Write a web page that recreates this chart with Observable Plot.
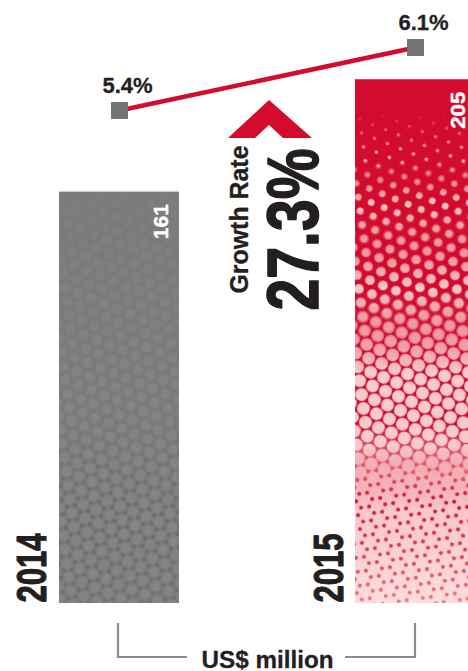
<!DOCTYPE html>
<html><head><meta charset="utf-8">
<script src="https://cdn.jsdelivr.net/npm/d3@7"></script>
<script src="https://cdn.jsdelivr.net/npm/@observablehq/plot@0.6"></script>
<style>
html,body{margin:0;padding:0;background:#fff;}
#chart{position:relative;width:468px;height:671px;overflow:hidden;background:#fff;}
#chart svg{position:absolute;left:0;top:0;}
</style></head><body><div id="chart"></div>
<script>
// ---- data ----
const years = ["2014", "2015"];
const revenue = [161, 205];           // US$ million
const shareRates = [5.4, 6.1];        // %
const rateLabels = ["5.4%", "6.1%"];
const growthLabel = "Growth Rate";
const growthValue = "27.3%";
const unitLabel = "US$ million";

const bars = years.map((year, i) => ({year, value: revenue[i]}));
const rates = years.map((year, i) => ({year, rate: shareRates[i], label: rateLabels[i]}));

// ---- style ----
const W = 468, H = 671;
const RED = "#d30b2d", INK = "#231f20", SQUARE = "#737373", BRACKET = "#8c8c8c";
const sans = "'Liberation Sans',Arial,Helvetica,sans-serif";

const xBand = {type: "band", domain: years, range: [59, 475], paddingInner: 0.5946, paddingOuter: 0, round: false, axis: null};
const is2014 = d => d.year === years[0];
const is2015 = d => d.year === years[1];

// annotation mark: chevron + bracket (pixel offsets relative to scales)
function annotations(index, scales) {
  const x = scales.x, y = scales.y, bw = x.bandwidth();
  const c0 = x(years[0]) + bw / 2, c1 = x(years[1]) + bw / 2;
  const mid = (c0 + c1) / 2 + 2;
  const g = d3.create("svg:g");
  const top = 100;
  g.append("path")
    .attr("d", `M${mid - 41},${top + 38}L${mid},${top}L${mid + 43},${top + 38}L${mid + 14},${top + 38}L${mid},${top + 25}L${mid - 14},${top + 38}Z`)
    .attr("fill", RED);
  const y0 = y(0);
  const by1 = y0 + 20, by2 = y0 + 54;
  g.append("path")
    .attr("d", `M${c0 - 1},${by1}V${by2}H${c0 + 68}M${c1 - 70},${by2}H${c1}V${by1}`)
    .attr("fill", "none").attr("stroke", BRACKET).attr("stroke-width", 2.2);
  return g.node();
}

const barPlot = Plot.plot({
  width: W, height: H, margin: 0,
  x: xBand,
  y: {domain: [0, 236], range: [603, 0], axis: null},
  style: {background: "transparent", overflow: "hidden"},
  marks: [
    Plot.barY(bars, {filter: is2014, x: "year", y: "value", fill: "#7b7b7b"}),
    Plot.barY(bars, {filter: is2014, x: "year", y: "value", fill: "url(#grayDots)", ariaDescription: "gray-dots"}),
    Plot.barY(bars, {filter: is2014, x: "year", y: "value", fill: "url(#grayStars)", ariaDescription: "gray-stars"}),
    Plot.barY(bars, {filter: is2015, x: "year", y: "value", fill: "url(#redGradient)"}),
    Plot.barY(bars, {filter: is2015, x: "year", y: "value", fill: "url(#pinkDots1)", ariaDescription: "pink1"}),
    Plot.barY(bars, {filter: is2015, x: "year", y: "value", fill: "url(#pinkDots2)", ariaDescription: "pink2"}),
    Plot.barY(bars, {filter: is2015, x: "year", y: "value", fill: "url(#pinkDots3)", ariaDescription: "pink3"}),
    Plot.barY(bars, {filter: is2015, x: "year", y: "value", fill: "url(#pinkDots4)", ariaDescription: "pink4"}),
    Plot.barY(bars, {filter: is2015, x: "year", y: "value", fill: "url(#redStars)", ariaDescription: "redstars"}),
    // value labels inside bars
    Plot.text(bars, {x: "year", y: "value", text: d => String(d.value), rotate: -90, textAnchor: "end", lineAnchor: "bottom",
      dx: 49, dy: 12, fill: "white", stroke: "white", strokeWidth: 0.4, fontSize: 21, fontWeight: "bold", fontFamily: sans, ariaDescription: "fit-values"}),
    // year labels
    Plot.text(bars, {x: "year", y: 0, text: "year", rotate: -90, textAnchor: "start", lineAnchor: "bottom",
      dx: -73, dy: -1, fill: INK, stroke: INK, strokeWidth: 1.1, fontSize: 42, fontWeight: "bold", fontFamily: sans, ariaDescription: "fit-years"}),
    // growth annotation
    Plot.text([growthLabel], {frameAnchor: "top-left", dx: 247, dy: 293, text: d => d, rotate: -90, textAnchor: "start", lineAnchor: "bottom",
      fill: INK, stroke: INK, strokeWidth: 0.3, fontSize: 25, fontWeight: "bold", fontFamily: sans, ariaDescription: "fit-growth"}),
    Plot.text([growthValue], {frameAnchor: "top-left", dx: 317, dy: 310, text: d => d, rotate: -90, textAnchor: "start", lineAnchor: "bottom",
      fill: INK, stroke: INK, strokeWidth: 1.6, fontSize: 72, fontWeight: "bold", fontFamily: sans, ariaDescription: "fit-big"}),
    Plot.text([unitLabel], {frameAnchor: "top-left", dx: 267, dy: 667, text: d => d, textAnchor: "middle", lineAnchor: "bottom",
      fill: INK, stroke: INK, strokeWidth: 0.3, fontSize: 23.5, fontWeight: "bold", fontFamily: sans, ariaDescription: "fit-unit"}),
    annotations
  ]
});

// ---- condensed type: fit text lengths (the reference uses a condensed face) ----
const fitLengths = {"fit-values": [35, 37], "fit-years": [69, 69], "fit-growth": [148], "fit-big": [162], "fit-unit": [132]};
d3.select(barPlot).selectAll("g[aria-description^='fit-']").each(function () {
  const L = fitLengths[this.getAttribute("aria-description")];
  d3.select(this).selectAll("text").each(function (_, i) {
    this.setAttribute("textLength", L[Math.min(i, L.length - 1)]);
    this.setAttribute("lengthAdjust", "spacingAndGlyphs");
  });
});

// ---- halftone defs ----
const svg = d3.select(barPlot);
const defs = svg.insert("defs", ":first-child");
const SX = 14, SY = 24.25;
function dotPattern(id, r, color, stars) {
  const p = defs.append("pattern").attr("id", id).attr("patternUnits", "userSpaceOnUse")
    .attr("width", SX).attr("height", SY).attr("patternTransform", "rotate(22)");
  const pts = stars
    ? [[7, 4.04], [0, 8.08], [14, 8.08], [0, 16.17], [14, 16.17], [7, 20.2]]
    : [[0, 0], [14, 0], [7, 12.12], [0, 24.25], [14, 24.25]];
  for (const [cx, cy] of pts) p.append("circle").attr("cx", cx).attr("cy", cy).attr("r", r).attr("fill", color);
}
function gradient(id, stops) {
  const lg = defs.append("linearGradient").attr("id", id).attr("x1", 0).attr("y1", 0).attr("x2", 0).attr("y2", 1);
  for (const [o, c] of stops) lg.append("stop").attr("offset", o).attr("stop-color", c);
}
function mask(id, stops) {
  gradient(id + "G", stops);
  defs.append("mask").attr("id", id).attr("maskContentUnits", "objectBoundingBox")
    .append("rect").attr("width", 1).attr("height", 1).attr("fill", `url(#${id}G)`);
}
gradient("redGradient", [[0, RED], [0.66, RED], [0.76, "#f0a2aa"], [0.82, "#f7c6ca"], [1, "#fcdcdc"]]);
dotPattern("pinkDots1", 1.8, "#f4b9bf");
dotPattern("pinkDots2", 3.4, "#f6c3c7");
dotPattern("pinkDots3", 4.9, "#f7c8cb");
dotPattern("pinkDots4", 6.4, "#f8cacd");
dotPattern("redStars", 2.0, "#d8102f", true);
dotPattern("grayDots", 5.0, "#848484");
dotPattern("grayStars", 2.0, "#6c6c6c", true);
mask("mPink1", [[0, "black"], [0.06, "black"], [0.15, "white"], [0.24, "black"], [1, "black"]]);
mask("mPink2", [[0, "black"], [0.15, "black"], [0.24, "white"], [0.4, "black"], [1, "black"]]);
mask("mPink3", [[0, "black"], [0.24, "black"], [0.4, "white"], [0.56, "black"], [1, "black"]]);
mask("mPink4", [[0, "black"], [0.4, "black"], [0.56, "white"], [0.7, "white"], [0.8, "black"], [1, "black"]]);
mask("mRedStars", [[0, "black"], [0.7, "black"], [0.8, "white"], [0.92, "#bbb"], [1, "#777"]]);
mask("mGrayDots", [[0, "#444"], [0.5, "white"], [1, "white"]]);
mask("mGrayStars", [[0, "black"], [0.55, "black"], [0.8, "white"], [1, "#999"]]);
const maskFor = {"pink1": "mPink1", "pink2": "mPink2", "pink3": "mPink3", "pink4": "mPink4", "redstars": "mRedStars", "gray-dots": "mGrayDots", "gray-stars": "mGrayStars"};
svg.selectAll("g[aria-description]").each(function () {
  const m = maskFor[this.getAttribute("aria-description")];
  if (m) d3.select(this).attr("mask", `url(#${m})`);
});

// ---- share-rate line (overlaid second plot with its own y scale) ----
const linePlot = Plot.plot({
  width: W, height: H, margin: 0,
  x: xBand,
  y: {domain: [4, 7], range: [236, -34], axis: null},
  style: {background: "transparent"},
  marks: [
    Plot.line(rates, {x: "year", y: "rate", stroke: RED, strokeWidth: 4.5}),
    Plot.dot(rates, {x: "year", y: "rate", symbol: "square", r: 9.6, fill: SQUARE, stroke: "none"}),
    Plot.text(rates, {x: "year", y: "rate", text: "label", dx: 8, dy: -18, lineAnchor: "bottom",
      fill: INK, stroke: INK, strokeWidth: 0.3, fontSize: 22, fontWeight: "bold", fontFamily: sans})
  ]
});

const chart = document.getElementById("chart");
chart.append(barPlot, linePlot);
</script></body></html>
